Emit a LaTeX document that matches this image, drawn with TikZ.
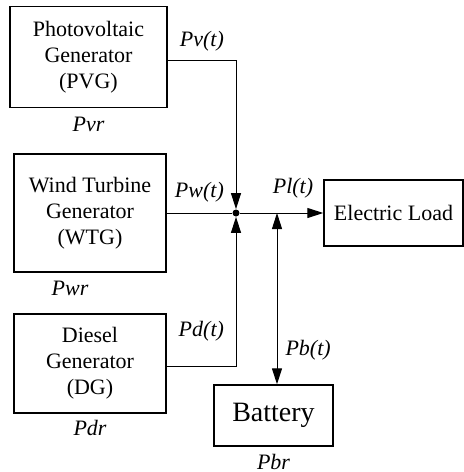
\documentclass[tikz,border=0pt]{standalone}
\usepackage{fontspec}
\setmainfont{Liberation Serif}
\usetikzlibrary{positioning, arrows.meta}

\begin{document}
\begin{tikzpicture}[x=0.5pt, y=-0.5pt,
      box/.style={draw, line width=0.7pt, align=center, inner sep=2pt, font=\fontsize{11}{13}\selectfont},
      lbl/.style={font=\fontsize{11}{13}\selectfont\itshape, inner sep=1pt},
      arrow/.style={-{Triangle[length=8pt, width=5pt]}, line width=0.5pt},
      line/.style={line width=0.5pt}
    ]
    \useasboundingbox (0,0) rectangle (464,472);
    \node[box, minimum width=78.5pt, minimum height=50.5pt] (pvg) at (88.5,57) {Photovoltaic\\Generator\\(PVG)};
    \node[box, minimum width=76pt, minimum height=59pt] (wtg) at (90,213) {Wind Turbine\\Generator\\(WTG)};
    \node[box, minimum width=76pt, minimum height=49.5pt] (dg) at (90,363.5) {Diesel\\Generator\\(DG)};
    \node[box, minimum width=69.5pt, minimum height=33pt] (load) at (393.5,213) {Electric Load};
    \node[box, minimum width=59.5pt, minimum height=30.5pt, font=\fontsize{14}{16}\selectfont] (bat) at (273.5,415.5) {Battery};

    \node[circle, fill, inner sep=0pt, minimum size=3.5pt] (j) at (236,213) {};
    \coordinate (bj) at (277,213);

    \node[lbl, below=3pt of pvg] (pvr) {Pvr};
    \node[lbl, below=3pt of wtg, xshift=-10pt] (pwr) {Pwr};
    \node[lbl, below=2pt of dg] (pdr) {Pdr};
    \node[lbl, below=2.5pt of bat] (pbr) {Pbr};

    \draw[arrow] ([yshift=-1.5pt]pvg.east) -| (j) node[lbl, pos=0.25, above=3pt] (pvt) {Pv(t)};
    \draw[line] (wtg.east) -- node[lbl, above=4pt] (pwt) {Pw(t)} (j);
    \draw[arrow] ([yshift=-1.25pt]dg.east) -| (j) node[lbl, pos=0.25, above=11pt] (pdt) {Pd(t)};
    \draw[arrow] (j) -- (load.west);
    \node[lbl, above=6pt of bj, xshift=8pt] (plt) {Pl(t)};
    \draw[arrow, {Triangle[length=8pt, width=5pt]}-{Triangle[length=8pt, width=5pt]}] (bj) -- (bj |- bat.north) node[lbl, pos=0.8, right=3pt] (pbt) {Pb(t)};
  \end{tikzpicture}
\end{document}
